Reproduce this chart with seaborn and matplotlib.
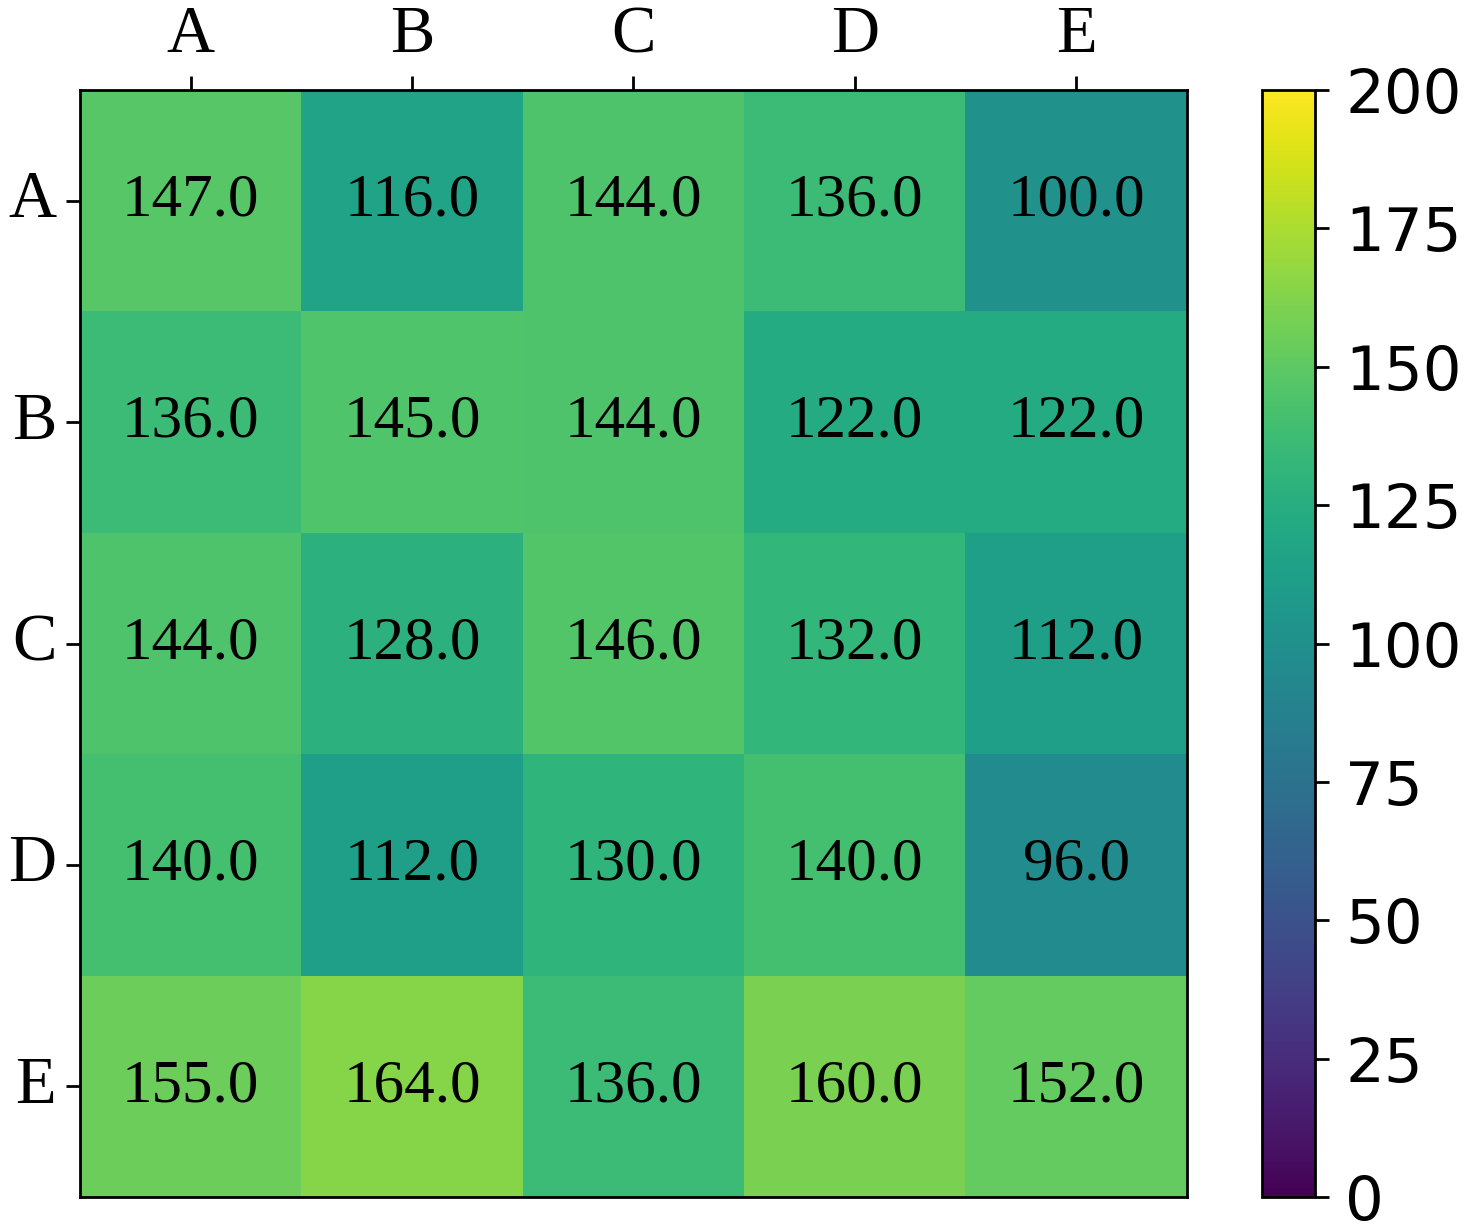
import numpy as np
import pandas as pd
import matplotlib
matplotlib.use("Agg")
import matplotlib.pyplot as plt
import seaborn as sns

# Data
labels = ["A", "B", "C", "D", "E"]
row_A = [147, 116, 144, 136, 100]
row_B = [136, 145, 144, 122, 122]
row_C = [144, 128, 146, 132, 112]
row_D = [140, 112, 130, 140, 96]
row_E = [155, 164, 136, 160, 152]
cbar_ticks = [0, 25, 50, 75, 100, 125, 150, 175, 200]

df = pd.DataFrame([row_A, row_B, row_C, row_D, row_E], index=labels, columns=labels)

plt.rcParams["font.serif"] = ["Liberation Serif", "Times New Roman", "DejaVu Serif"]

fig = plt.figure(figsize=(7.35, 6.145), dpi=200)
ax = fig.add_axes([0.0544, 0.026, 0.753, 0.9007])
cax = fig.add_axes([0.8585, 0.026, 0.036, 0.9007])

sns.heatmap(df, ax=ax, cbar_ax=cax, cmap="viridis", vmin=0, vmax=200,
            annot=True, fmt=".1f",
            annot_kws={"fontsize": 22, "fontfamily": "serif", "color": "black"},
            cbar_kws={"ticks": cbar_ticks})

ax.xaxis.tick_top()
ax.tick_params(axis="both", length=5, width=1, labelsize=24, colors="black")
for lab in ax.get_xticklabels() + ax.get_yticklabels():
    lab.set_fontfamily("serif")
    lab.set_rotation(0)
for sp in ax.spines.values():
    sp.set_visible(True)
    sp.set_color("black")
    sp.set_linewidth(1)

cax.tick_params(labelsize=22, length=5, width=1, pad=6)
cax.yaxis.set_tick_params(which="minor", length=0)
cbar = ax.collections[0].colorbar
cbar.outline.set_visible(True)
cbar.outline.set_edgecolor("black")
cbar.outline.set_linewidth(1)

fig.savefig("out.png", dpi=200)
